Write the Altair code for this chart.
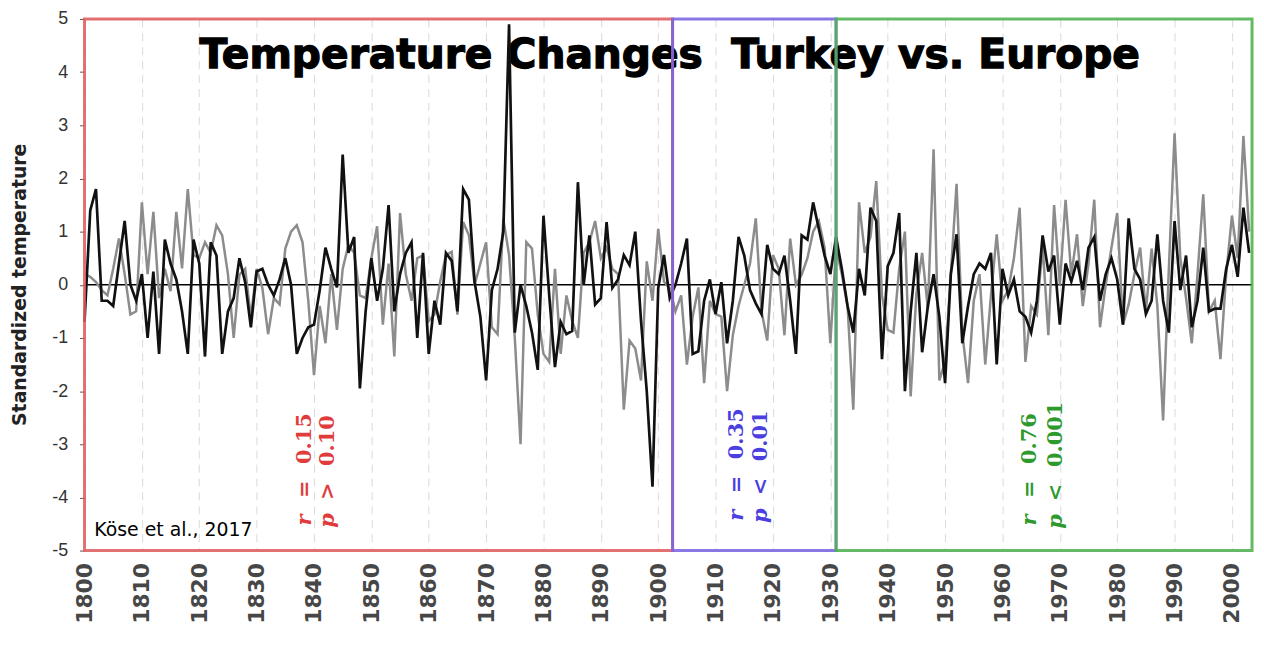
import altair as alt
import pandas as pd

# ---------------- data ----------------
years = list(range(1800, 2004))

turkey = [
    -0.7, 1.4, 1.8, -0.3, -0.3, -0.4, 0.4, 1.2, 0.0, -0.3,
    0.2, -1.0, 0.25, -1.3, 0.85, 0.4, 0.1, -0.5, -1.3, 0.85,
    0.4, -1.35, 0.8, 0.55, -1.3, -0.5, -0.25, 0.5, 0.05, -0.8,
    0.25, 0.3, 0.0, -0.2, 0.1, 0.5, 0.0, -1.3, -1.0, -0.8,
    -0.75, -0.1, 0.7, 0.3, -0.05, 2.45, 0.6, 0.9, -1.95, -0.5,
    0.5, -0.3, 0.3, 1.5, -0.5, 0.2, 0.6, 0.8, -1.0, 0.6,
    -1.3, -0.3, -0.75, 0.6, 0.45, -0.5, 1.8, 1.6, 0.05, -0.6,
    -1.8, -0.1, 0.3, 1.0, 4.9, -0.9, 0.0, -0.4, -0.9, -1.6,
    1.3, -0.2, -1.55, -0.7, -0.93, -0.87, 1.93, 0.0, 0.93, -0.37,
    -0.25, 1.18, -0.06, 0.1, 0.56, 0.37, 1.0, -0.68, -2.0, -3.8,
    -0.06, 0.56, -0.25, 0.0, 0.4, 0.87, -1.3, -1.25, -0.3, 0.1,
    -0.55, 0.05, -1.1, -0.3, 0.9, 0.55, -0.1, -0.35, -0.55, 0.75,
    0.3, 0.2, 0.55, -0.3, -1.3, 0.93, 0.85, 1.55, 1.05, 0.55,
    0.2, 0.9, 0.3, -0.4, -0.9, 0.3, -0.2, 1.45, 1.2, -1.4,
    0.35, 0.6, 1.35, -2.0, -0.5, 0.6, -1.27, -0.4, 0.2, -0.6,
    -1.85, 0.2, 0.95, -1.1, -0.4, 0.2, 0.4, 0.3, 0.6, -1.5,
    0.3, -0.2, 0.1, -0.5, -0.6, -0.9, -0.3, 0.93, 0.25, 0.55,
    -0.75, 0.4, 0.06, 0.45, -0.1, 0.7, 0.9, -0.3, 0.2, 0.5,
    0.1, -0.75, 1.25, 0.3, 0.1, -0.55, -0.3, 0.95, -0.3, -0.9,
    1.2, -0.1, 0.55, -0.8, -0.3, 0.7, -0.5, -0.45, -0.45, 0.3,
    0.75, 0.15, 1.45, 0.6,
]

europe = [
    0.2, 0.15, 0.05, -0.1, -0.2, 0.3, 0.87, 0.2, -0.56, -0.5,
    1.55, 0.2, 1.37, -0.25, 0.3, -0.12, 1.37, 0.31, 1.8, 0.56,
    0.5, 0.8, 0.6, 1.12, 0.93, 0.2, -1.0, 0.19, 0.3, -0.62,
    0.3, -0.06, -0.93, -0.25, -0.37, 0.68, 1.0, 1.12, 0.8, -0.3,
    -1.7, -0.4, -1.1, 0.2, -0.85, 0.3, 0.75, 0.6, -0.2, -0.25,
    0.5, 1.1, -0.75, 0.4, -1.35, 1.35, 0.2, -0.3, 0.5, 0.55,
    -0.68, -0.56, 0.06, 0.56, 0.62, -0.56, 1.18, 0.93, 0.0, 0.4,
    0.8, -0.8, -0.93, 1.24, 0.56, -1.0, -3.0, 0.8, 0.68, -0.56,
    -1.3, -1.45, 0.3, -1.3, -0.2, -0.68, -1.0, 0.6, 0.8, 1.2,
    0.5, 0.7, 0.3, 0.2, -2.35, -1.05, -1.2, -1.8, 0.44, -0.3,
    1.05, 0.06, -0.06, -0.5, -0.2, -1.5, -0.6, -0.05, -1.85, -0.3,
    -0.55, -0.6, -2.0, -0.95, -0.4, 0.0, 0.4, 1.25, -0.5, -1.05,
    0.56, 0.3, -0.95, 0.87, 0.0, 0.19, 0.5, 1.0, 1.2, 0.7,
    -1.1, 0.7, 0.2, -0.4, -2.35, 1.55, 0.6, 0.9, 1.95, -0.2,
    -0.85, -0.9, 0.3, 1.0, -2.1, -0.16, 0.6, -0.45, 2.55, -1.8,
    -1.45, 0.2, 1.9, -0.9, -1.85, -0.3, 0.2, -1.5, -0.2, 0.95,
    -0.3, -0.1, 0.5, 1.45, -1.45, -0.4, -0.56, 0.75, -0.95, 1.5,
    0.0, 1.6, 0.19, 0.95, -0.4, 0.4, 1.6, -0.8, 0.0, 0.7,
    1.35, -0.75, -0.37, 0.2, 0.7, -0.5, 0.68, -0.4, -2.55, 0.3,
    2.85, 0.5, -0.25, -1.1, 0.2, 1.7, -0.5, -0.3, -1.4, 0.2,
    1.3, 0.5, 2.8, 1.0,
]

x_ticks = list(range(1800, 2001, 10))
y_ticks = list(range(-5, 6))

# correlation period boxes
box_start = [1800, 1902.5, 1931]
box_end = [1902.5, 1931, 2003.5]
box_color = ["#e05a5a", "#7563e3", "#4cb04c"]

# rotated statistics annotations (letter, operator, number)
ann_letter = ["r", "p", "r", "p", "r", "p"]
ann_op = ["=", ">", "=", "<", "=", "<"]
ann_num = ["0.15", "0.10", "0.35", "0.01", "0.76", "0.001"]
ann_year = [1838.5, 1842.5, 1913.7, 1918.0, 1964.8, 1969.3]
ann_val = [-4.53, -4.57, -4.44, -4.48, -4.53, -4.59]
ann_color = ["#e03c3c", "#e03c3c", "#4b3fe0", "#4b3fe0", "#2e9a2e", "#2e9a2e"]

title_text = ["Temperature Changes\u00a0 Turkey vs. Europe"]
title_year = [1902.0]
title_val = [4.3]

source_text = ["Köse et al., 2017"]
source_year = [1801.7]
source_val = [-4.72]

# ---------------- chart ----------------
XDOM = [1800, 2003.5]
xscale = alt.Scale(domain=XDOM, nice=False, zero=False)
yscale = alt.Scale(domain=[-5, 5], nice=False)

xaxis = alt.Axis(
    values=x_ticks, format="d", labelAngle=270, labelFont="DejaVu Sans",
    labelFontWeight="bold", labelFontSize=22, labelColor="#474747",
    ticks=False, domain=False, grid=True, gridDash=[8, 6],
    gridColor="#dadada", gridWidth=1, labelPadding=12, title=None,
    labelOverlap=False,
)
yaxis = alt.Axis(
    values=y_ticks, grid=False, domain=False, tickSize=5, tickColor="#555555",
    labelFont="Liberation Sans", labelFontSize=18, labelColor="#333333",
    labelPadding=12, labelExpr="'' + datum.value",
    title="Standardized temperature", titleFont="DejaVu Sans",
    titleFontSize=19, titleFontWeight="bold", titleColor="#222222",
    titleX=-65, titleY=267, titleBaseline="middle",
)

X = alt.X("year:Q", scale=xscale, axis=xaxis)
Y = alt.Y("value:Q", scale=yscale, axis=yaxis)

lines_df = pd.DataFrame({
    "year": years * 2,
    "value": europe + turkey,
    "series": ["Europe"] * len(years) + ["Turkey"] * len(years),
})

title_df = pd.DataFrame({"year": title_year, "value": title_val, "t": title_text})
title_layer = alt.Chart(title_df).mark_text(
    font="DejaVu Sans", fontSize=41, fontWeight="bold", color="black",
    stroke="black", strokeWidth=1.3, align="center", baseline="middle",
).encode(x=X, y=Y, text="t:N")

zero_df = pd.DataFrame({"value": [0]})
zero_layer = alt.Chart(zero_df).mark_rule(color="black", strokeWidth=1.6).encode(y=Y)

europe_layer = alt.Chart(lines_df).transform_filter(
    alt.datum.series == "Europe"
).mark_line(color="#8c8c8c", strokeWidth=2.5, strokeJoin="miter").encode(x=X, y=Y, order="year:Q")

turkey_layer = alt.Chart(lines_df).transform_filter(
    alt.datum.series == "Turkey"
).mark_line(color="#111111", strokeWidth=2.7, strokeJoin="miter").encode(x=X, y=Y, order="year:Q")

box_df = pd.DataFrame({"year": box_start, "year2": box_end, "c": box_color})
box_layer = alt.Chart(box_df).mark_rect(
    fillOpacity=0, strokeWidth=3, strokeOpacity=0.85,
).encode(
    x=X, x2="year2:Q", y=alt.datum(-5, scale=yscale, axis=yaxis), y2=alt.datum(5),
    stroke=alt.Stroke("c:N", scale=None),
)

# annotation pieces: letter at base, operator and number further up the rotated line
OP_SHIFT = 0.52
NUM_SHIFT = 1.16
ann_df = pd.DataFrame({
    "year": ann_year * 3,
    "value": ann_val + [v + OP_SHIFT for v in ann_val] + [v + NUM_SHIFT for v in ann_val],
    "t": ann_letter + ann_op + ann_num,
    "c": ann_color * 3,
    "kind": ["letter"] * 6 + ["op"] * 6 + ["num"] * 6,
})
ann_letters = alt.Chart(ann_df).transform_filter(alt.datum.kind == "letter").mark_text(
    font="DejaVu Serif", fontSize=21, fontWeight="bold", fontStyle="italic", angle=270,
    align="left", baseline="middle",
).encode(x=X, y=Y, text="t:N", color=alt.Color("c:N", scale=None))
ann_rest = alt.Chart(ann_df).transform_filter(alt.datum.kind != "letter").mark_text(
    font="DejaVu Serif", fontSize=21, fontWeight="bold", angle=270,
    align="left", baseline="middle",
).encode(x=X, y=Y, text="t:N", color=alt.Color("c:N", scale=None))

src_df = pd.DataFrame({"year": source_year, "value": source_val, "t": source_text})
src_layer = alt.Chart(src_df).mark_text(
    font="DejaVu Sans", fontSize=19, color="black", align="left", baseline="alphabetic",
).encode(x=X, y=Y, text="t:N")

chart = alt.layer(
    title_layer, zero_layer, europe_layer, turkey_layer, box_layer,
    ann_letters, ann_rest, src_layer
).properties(
    width=1175, height=535,
    autosize=alt.AutoSizeParams(type="none"),
    padding={"left": 77, "top": 9, "right": 4, "bottom": 98},
).configure_view(stroke=None).configure(background="white")

chart.save("out.html", embed_options={"renderer": "svg", "actions": False})
